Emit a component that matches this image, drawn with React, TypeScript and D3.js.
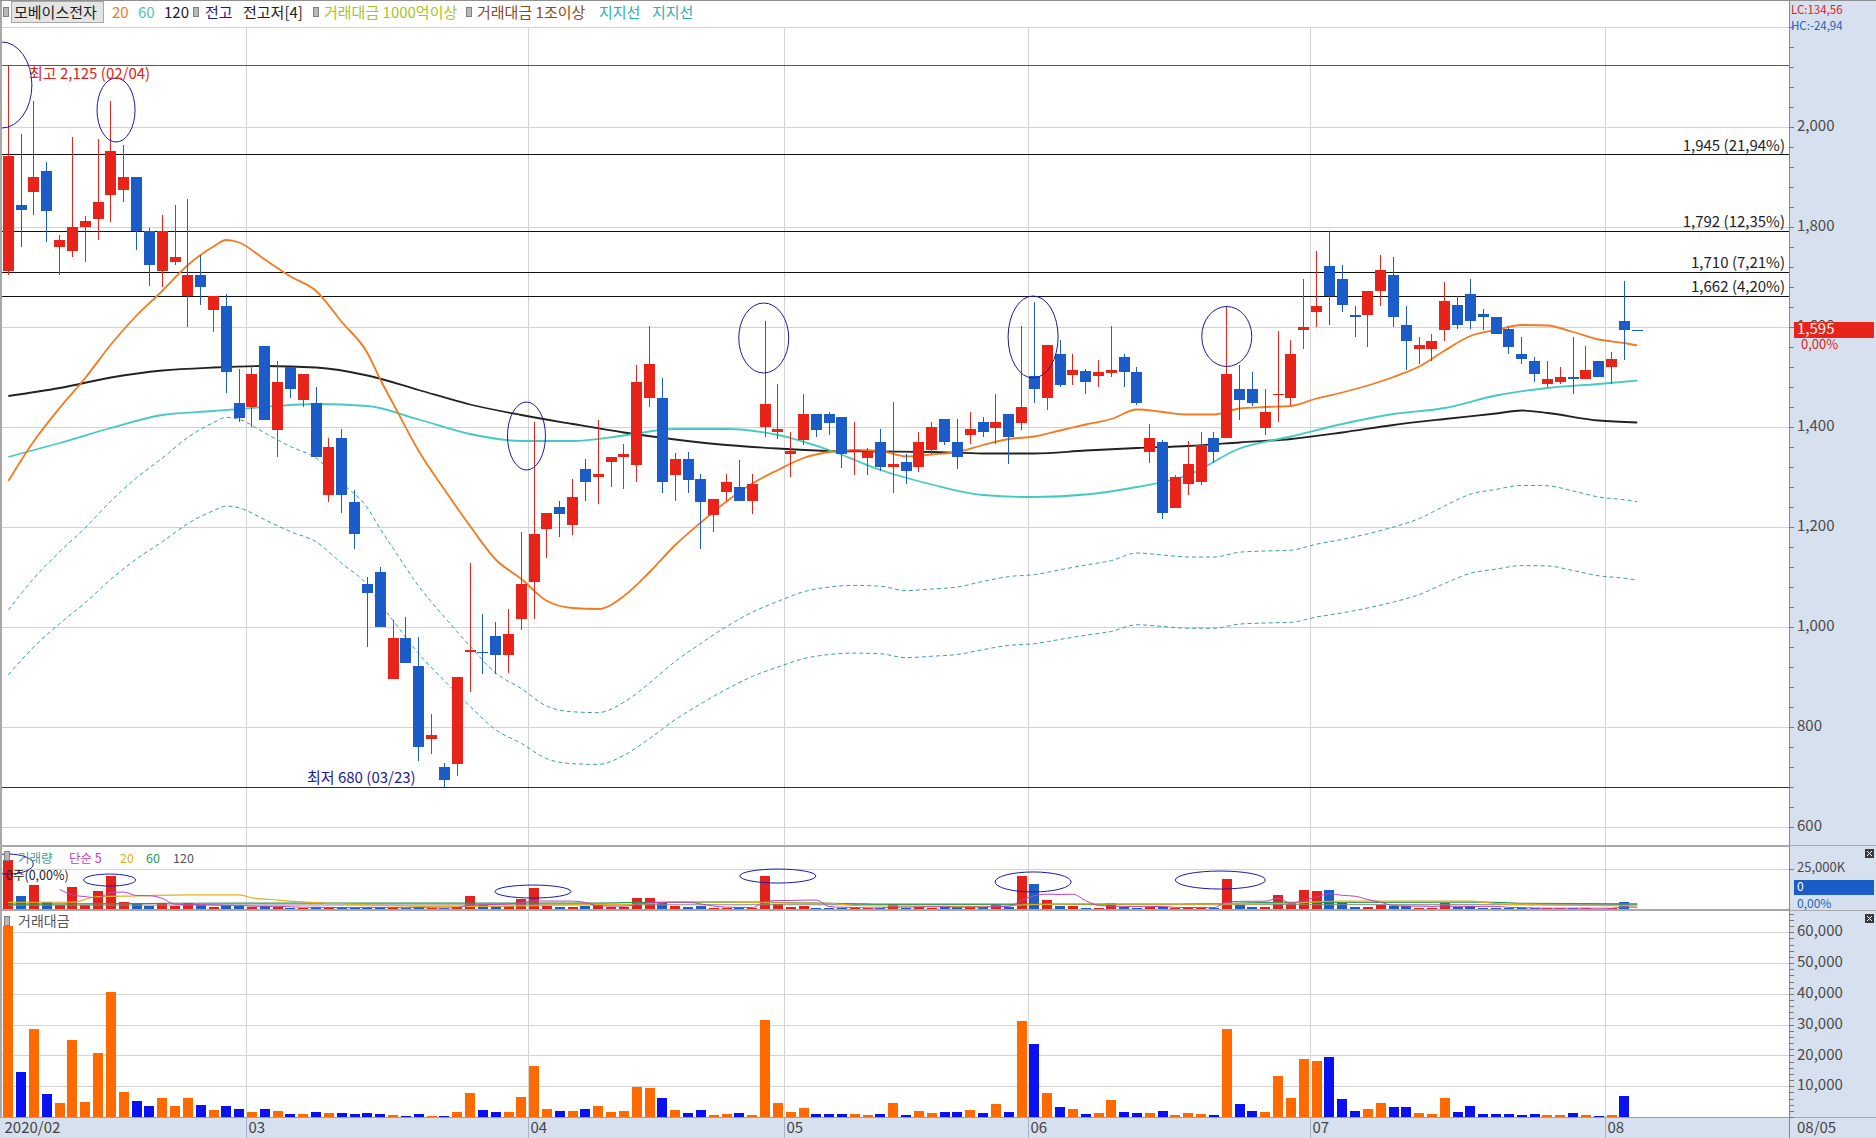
import { useEffect } from "react";
import * as d3 from "d3";

const W = 1876;
const H = 1138;
const PLOT_L = 2;
const PLOT_R = 1789;
const FONT = "'Noto Sans CJK KR', 'Noto Sans', sans-serif";

// 일봉 (2020/02/04 ~ 2020/08/05)
const OPEN = [
  1713, 1845, 1870, 1912, 1761, 1751, 1801, 1815, 1864, 1874,
  1900, 1793, 1713, 1730, 1661, 1705, 1635, 1642, 1449, 1439,
  1562, 1395, 1520, 1455, 1449, 1265, 1379, 1250, 1086, 1110,
  895, 977, 922, 777, 720, 726, 950, 951, 983, 944,
  1016, 1090, 1196, 1240, 1205, 1317, 1299, 1330, 1341, 1325,
  1459, 1459, 1304, 1336, 1296, 1225, 1270, 1280, 1251, 1401,
  1390, 1346, 1375, 1426, 1426, 1420, 1349, 1339, 1371, 1320,
  1330, 1320, 1355, 1416, 1371, 1385, 1410, 1399, 1426, 1409,
  1502, 1459, 1546, 1505, 1512, 1502, 1509, 1541, 1511, 1349,
  1370, 1239, 1287, 1290, 1379, 1379, 1476, 1476, 1399, 1464,
  1458, 1594, 1631, 1722, 1696, 1625, 1625, 1672, 1705, 1605,
  1556, 1556, 1595, 1645, 1666, 1626, 1621, 1596, 1546, 1531,
  1486, 1490, 1501, 1496, 1531, 1521, 1612, 1595,
];
const HIGH = [
  2125, 1985, 2051, 1931, 1785, 1981, 1822, 1976, 2051, 1964,
  1900, 1798, 1825, 1845, 1856, 1744, 1662, 1667, 1517, 1525,
  1562, 1532, 1520, 1506, 1480, 1379, 1396, 1275, 1101, 1120,
  1014, 1020, 980, 826, 728, 901, 1128, 1027, 1011, 1037,
  1191, 1410, 1229, 1251, 1296, 1336, 1415, 1341, 1367, 1525,
  1602, 1498, 1348, 1350, 1307, 1256, 1307, 1335, 1307, 1612,
  1486, 1389, 1467, 1426, 1430, 1420, 1410, 1359, 1396, 1451,
  1346, 1389, 1410, 1416, 1416, 1430, 1420, 1466, 1426, 1602,
  1650, 1565, 1575, 1546, 1517, 1534, 1602, 1546, 1521, 1406,
  1375, 1305, 1372, 1389, 1389, 1643, 1525, 1511, 1476, 1592,
  1575, 1696, 1752, 1792, 1725, 1643, 1672, 1745, 1741, 1643,
  1581, 1585, 1691, 1662, 1696, 1636, 1621, 1600, 1581, 1541,
  1531, 1519, 1581, 1562, 1531, 1550, 1692, 1595,
];
const LOW = [
  1704, 1761, 1825, 1771, 1704, 1740, 1730, 1774, 1810, 1850,
  1755, 1683, 1680, 1725, 1600, 1644, 1590, 1469, 1410, 1401,
  1415, 1341, 1458, 1439, 1340, 1250, 1229, 1156, 960, 1001,
  895, 929, 733, 747, 680, 702, 871, 907, 907, 909,
  994, 1016, 1139, 1180, 1185, 1251, 1246, 1280, 1277, 1289,
  1440, 1268, 1251, 1268, 1156, 1191, 1251, 1251, 1227, 1381,
  1376, 1299, 1364, 1380, 1384, 1319, 1305, 1305, 1311, 1269,
  1287, 1309, 1347, 1364, 1316, 1366, 1380, 1366, 1326, 1395,
  1449, 1435, 1480, 1485, 1466, 1480, 1501, 1480, 1444, 1329,
  1216, 1239, 1265, 1285, 1329, 1379, 1414, 1441, 1385, 1410,
  1444, 1556, 1600, 1604, 1631, 1581, 1561, 1643, 1600, 1514,
  1527, 1532, 1573, 1596, 1596, 1594, 1587, 1546, 1527, 1490,
  1480, 1486, 1466, 1496, 1501, 1486, 1534, 1595,
];
const CLOSE = [
  1942, 1834, 1900, 1831, 1775, 1801, 1812, 1851, 1952, 1900,
  1791, 1725, 1793, 1741, 1705, 1680, 1662, 1511, 1419, 1506,
  1415, 1490, 1476, 1506, 1340, 1360, 1265, 1186, 1067, 1001,
  977, 929, 760, 783, 694, 901, 955, 948, 944, 985,
  1087, 1187, 1229, 1226, 1260, 1290, 1306, 1341, 1347, 1490,
  1526, 1290, 1336, 1294, 1250, 1256, 1291, 1251, 1287, 1446,
  1397, 1352, 1426, 1395, 1409, 1346, 1355, 1350, 1320, 1326,
  1311, 1371, 1400, 1370, 1341, 1396, 1390, 1410, 1380, 1439,
  1476, 1565, 1485, 1515, 1490, 1511, 1515, 1511, 1449, 1379,
  1229, 1299, 1326, 1365, 1349, 1506, 1454, 1449, 1430, 1467,
  1546, 1600, 1642, 1661, 1645, 1621, 1672, 1714, 1621, 1571,
  1565, 1571, 1652, 1604, 1612, 1621, 1587, 1561, 1536, 1506,
  1496, 1501, 1496, 1514, 1501, 1536, 1595, 1595,
];

// 거래대금 (백만)
const VALUE = [
  61900, 14600, 28700, 7500, 4500, 24900, 4900, 20700, 40500, 8100,
  5200, 3600, 6200, 3600, 6200, 3900, 2300, 3600, 2600, 1600,
  2600, 1900, 1000, 1000, 1600, 1300, 1300, 1000, 1300, 1000,
  600, 300, 1000, 300, 300, 1600, 7800, 2300, 1600, 1600,
  6500, 16500, 2600, 1900, 1900, 2600, 3600, 1600, 1900, 9700,
  9400, 6200, 2300, 1300, 2300, 600, 1000, 1300, 600, 31400,
  4500, 1600, 2900, 1000, 1000, 1000, 1000, 600, 1000, 4500,
  600, 1900, 1300, 1600, 1600, 2300, 1300, 4200, 1600, 31100,
  23700, 7800, 3200, 2600, 1000, 1300, 5500, 1600, 1300, 1300,
  1900, 600, 1300, 1000, 600, 28500, 4100, 1900, 1600, 13200,
  6100, 18800, 18100, 19400, 5800, 1900, 2600, 4500, 3200, 3200,
  1300, 1000, 6100, 1600, 3500, 1000, 1000, 1000, 600, 1000,
  600, 600, 1300, 600, 300, 600, 6800, 0,
];

// 거래량 (K주)
const VOLUME = [
  30900, 8200, 15100, 4400, 2600, 13900, 2700, 11300, 20800, 4300,
  2900, 2100, 3500, 2100, 3600, 2300, 1400, 2300, 1800, 1100,
  1800, 1300, 700, 700, 1150, 950, 1000, 850, 1200, 1000,
  650, 350, 1300, 400, 450, 1800, 8200, 2400, 1700, 1600,
  6300, 13200, 2100, 1550, 1500, 2000, 2750, 1200, 1400, 6900,
  6900, 4400, 1700, 1000, 1800, 480, 780, 1000, 470, 20800,
  3200, 1200, 2050, 720, 710, 740, 740, 450, 760, 3400,
  460, 1400, 930, 1170, 1190, 1650, 940, 2980, 1160, 20800,
  15700, 5700, 2150, 1720, 670, 860, 3700, 1060, 900, 940,
  1550, 460, 980, 730, 440, 18900, 2800, 1300, 1120, 8800,
  3950, 12000, 11300, 12000, 3500, 1170, 1550, 2600, 1950, 2000,
  830, 640, 3700, 1000, 2170, 620, 630, 640, 390, 660,
  400, 400, 870, 400, 200, 390, 4200, 0,
];

// 이동평균 (봉 번호, 값) — 화면에서 읽은 값
const MA20: [number, number][] = [
  [0, 1292], [2, 1372], [4, 1438], [6, 1498], [8, 1565], [10, 1623], [12, 1672],
  [14, 1724], [16, 1761], [17, 1774], [18, 1769], [20, 1735], [22, 1701], [24, 1672],
  [26, 1610], [28, 1548], [29, 1495], [30, 1447], [32, 1352], [34, 1275], [36, 1202],
  [38, 1135], [40, 1096], [42, 1052], [44, 1038], [46, 1036], [48, 1062], [50, 1110],
  [52, 1164], [54, 1209], [56, 1251], [58, 1287], [60, 1314], [62, 1338], [64, 1350],
  [66, 1354], [68, 1352], [70, 1341], [72, 1345], [74, 1350], [76, 1364], [78, 1376],
  [80, 1381], [82, 1393], [84, 1405], [86, 1416], [88, 1435], [90, 1430], [92, 1425],
  [94, 1425], [96, 1437], [98, 1440], [100, 1442], [102, 1457], [104, 1469], [106, 1483],
  [108, 1500], [110, 1521], [112, 1553], [114, 1582], [116, 1594], [118, 1604],
  [120, 1603], [122, 1590], [124, 1575], [126, 1568], [127, 1563],
];
const MA60: [number, number][] = [
  [0, 1340], [4, 1368], [8, 1398], [12, 1424], [16, 1432], [20, 1440], [24, 1446],
  [28, 1442], [32, 1415], [36, 1386], [40, 1372], [44, 1372], [48, 1383], [52, 1396],
  [56, 1396], [60, 1384], [64, 1354], [68, 1314], [72, 1285], [76, 1264], [80, 1260],
  [84, 1265], [88, 1280], [92, 1304], [96, 1357], [100, 1381], [104, 1406], [108, 1426],
  [112, 1438], [116, 1463], [120, 1478], [124, 1486], [127, 1493],
];
const MA120: [number, number][] = [
  [0, 1462], [4, 1478], [8, 1499], [12, 1513], [16, 1519], [20, 1522], [24, 1519],
  [28, 1503], [32, 1474], [36, 1445], [40, 1424], [44, 1406], [48, 1389], [52, 1375],
  [56, 1364], [60, 1357], [64, 1352], [68, 1351], [72, 1350], [76, 1347], [80, 1347],
  [84, 1353], [88, 1358], [92, 1362], [96, 1369], [100, 1376], [104, 1389], [108, 1404],
  [112, 1416], [116, 1427], [118, 1433], [120, 1428], [124, 1413], [127, 1409],
];
const ENV_RATES = [0.8, 0.7];

const VOL_MA20: [number, number][] = [
  [0, 4200], [5, 4300], [7, 7800], [10, 8200], [14, 8800], [18, 8800], [19, 7000],
  [21, 5600], [23, 4400], [25, 3600], [28, 2600], [32, 1700], [36, 1600], [40, 1900],
  [44, 2700], [48, 2700], [52, 4300], [56, 4400], [60, 3800], [64, 3600], [66, 2200],
  [70, 1800], [76, 1500], [80, 2800], [84, 3200], [92, 3000], [96, 3200], [100, 3700],
  [104, 5000], [110, 5000], [114, 4900], [116, 3400], [120, 2400], [127, 2000],
];
const VOL_MA60: [number, number][] = [
  [0, 3000], [10, 3300], [12, 3600], [30, 3700], [46, 3700], [50, 4200], [58, 4300],
  [62, 3800], [70, 3000], [90, 3000], [95, 3600], [100, 4200], [115, 4300], [118, 3600],
  [127, 3200],
];
const VOL_MA120: [number, number][] = [[0, 2400], [40, 2600], [80, 2700], [127, 2700]];

const MONTH_START = [0, 19, 41, 61, 80, 102, 125];
const MONTH_LABEL = ["2020/02", "03", "04", "05", "06", "07", "08"];
const PRICE_GRID = [2200, 2000, 1800, 1600, 1400, 1200, 1000, 800, 600];
const PRICE_LABELS = [2000, 1800, 1600, 1400, 1200, 1000, 800, 600];
const LEVELS = [1945, 1792, 1710, 1662];
const LEVEL_PCT = ["21,94%", "12,35%", "7,21%", "4,20%"];
const TOP_PRICE = 2125;
const BOTTOM_PRICE = 680;
const LAST_PRICE = 1595;
const VALUE_TICKS = [60000, 50000, 40000, 30000, 20000, 10000];

// 동그라미 표시 (봉 번호, 값, 가로/세로 반지름)
const PRICE_RINGS = [
  { k: -0.5, v: 2084, rx: 30, ry: 43 },
  { k: 8.4, v: 2034, rx: 19, ry: 32 },
  { k: 40.4, v: 1382, rx: 19, ry: 34 },
  { k: 58.9, v: 1578, rx: 25, ry: 35 },
  { k: 79.9, v: 1580, rx: 25, ry: 41 },
  { k: 95, v: 1581, rx: 25, ry: 30 },
];
const VOL_RINGS = [
  { k: 0, v: 28100, rx: 25, ry: 10 },
  { k: 7.9, v: 18100, rx: 26, ry: 6 },
  { k: 40.9, v: 10900, rx: 38, ry: 6.5 },
  { k: 60, v: 20600, rx: 38, ry: 7 },
  { k: 79.9, v: 16900, rx: 38, ry: 10 },
  { k: 94.5, v: 18100, rx: 45, ry: 9 },
];

const UP = "#e8231a";
const DOWN = "#1c5cc8";

const fmt = d3.format(",");

export default function App() {
  useEffect(() => {
    document.body.style.margin = "0";
  }, []);

  const x = d3.scaleLinear().domain([0, 127]).range([8.3, 1637.2]);
  const y = d3.scaleLinear().domain([600, 2000]).range([827, 127]);
  const yVol = d3.scaleLinear().domain([0, 25000]).range([909, 869]);
  const yVal = d3.scaleLinear().domain([0, 60000]).range([1117, 932.3]);
  const gridX = (k: number) => Math.round(x(k) - 6.4) + 0.5;

  const priceLine = d3
    .line<[number, number]>()
    .x((d) => x(d[0]))
    .y((d) => y(d[1]))
    .curve(d3.curveMonotoneX);
  const volLine = d3
    .line<[number, number]>()
    .x((d) => x(d[0]))
    .y((d) => yVol(d[1]))
    .curve(d3.curveMonotoneX);

  const volMa5: [number, number][] = d3
    .range(4, VOLUME.length)
    .map((k) => [k, d3.mean(VOLUME.slice(k - 4, k + 1)) as number]);

  const idx = d3.range(CLOSE.length);
  const priceTicks = d3.range(600, 2201, 40);
  const valueTicks = d3.range(0, 66001, 2000);

  const icon = (px: number, py: number) => (
    <rect x={px + 0.5} y={py + 0.5} width={5} height={9} fill="#b8b8b8" stroke="#808080" />
  );
  const closeBox = (px: number, py: number) => (
    <g>
      <rect x={px} y={py} width={9} height={9} fill="#3a3a3a" />
      <path d={`M${px + 2},${py + 2}L${px + 7},${py + 7}M${px + 7},${py + 2}L${px + 2},${py + 7}`} stroke="#fff" strokeWidth={1} />
    </g>
  );

  return (
    <div style={{ position: "absolute", left: 0, top: 0 }}>
      <svg width={W} height={H} style={{ display: "block", background: "#fff", fontFamily: FONT }}>
        <defs>
          <clipPath id="mainClip">
            <rect x={PLOT_L} y={0} width={PLOT_R - PLOT_L} height={845} />
          </clipPath>
          <clipPath id="volClip">
            <rect x={PLOT_L} y={847} width={PLOT_R - PLOT_L} height={62} />
          </clipPath>
        </defs>

        {/* right axis + x axis background */}
        <rect x={PLOT_R} y={0} width={W - PLOT_R} height={H} fill="#d6e0ee" />
        <rect x={0} y={1118} width={PLOT_R} height={20} fill="#d6e0ee" />

        {/* main grid */}
        {PRICE_GRID.map((v) => (
          <line key={"pg" + v} x1={PLOT_L} x2={PLOT_R} y1={Math.round(y(v)) + 0.5} y2={Math.round(y(v)) + 0.5} stroke="#d3d3d3" />
        ))}
        {MONTH_START.slice(1).map((k) => (
          <g key={"mg" + k}>
            <line x1={gridX(k)} x2={gridX(k)} y1={27} y2={845} stroke="#d3d3d3" />
            <line x1={gridX(k)} x2={gridX(k)} y1={847} y2={909} stroke="#d3d3d3" />
            <line x1={gridX(k)} x2={gridX(k)} y1={912} y2={1117} stroke="#d3d3d3" />
            <line x1={gridX(k)} x2={gridX(k)} y1={1118} y2={1138} stroke="#a8b2c0" />
          </g>
        ))}
        <line x1={PLOT_L} x2={PLOT_R} y1={Math.round(yVol(25000)) + 0.5} y2={Math.round(yVol(25000)) + 0.5} stroke="#d3d3d3" />
        {VALUE_TICKS.map((v) => (
          <line key={"vg" + v} x1={PLOT_L} x2={PLOT_R} y1={Math.round(yVal(v)) + 0.5} y2={Math.round(yVal(v)) + 0.5} stroke="#d3d3d3" />
        ))}

        <g clipPath="url(#mainClip)">
          {/* envelope */}
          {ENV_RATES.map((r) => (
            <path
              key={"env" + r}
              d={priceLine(MA20.map(([k, v]) => [k, v * r] as [number, number])) || ""}
              fill="none"
              stroke="#3a9ea6"
              strokeWidth={1}
              strokeDasharray="4,3"
            />
          ))}

          {/* 전고저 lines */}
          {LEVELS.map((v) => (
            <line key={"lv" + v} x1={PLOT_L} x2={PLOT_R} y1={Math.round(y(v)) + 0.5} y2={Math.round(y(v)) + 0.5} stroke="#111" />
          ))}
          <line x1={PLOT_L} x2={PLOT_R} y1={Math.round(y(TOP_PRICE)) + 0.5} y2={Math.round(y(TOP_PRICE)) + 0.5} stroke="#e02020" />
          <line x1={PLOT_L} x2={PLOT_R} y1={Math.round(y(BOTTOM_PRICE)) + 0.5} y2={Math.round(y(BOTTOM_PRICE)) + 0.5} stroke="#2020a0" />

          {/* moving averages */}
          <path d={priceLine(MA120) || ""} fill="none" stroke="#222" strokeWidth={1.8} />
          <path d={priceLine(MA60) || ""} fill="none" stroke="#45c9c3" strokeWidth={1.8} />
          <path d={priceLine(MA20) || ""} fill="none" stroke="#f47a20" strokeWidth={1.8} />

          {/* candles */}
          {idx.map((k) => {
            const o = OPEN[k];
            const c = CLOSE[k];
            const col = c > o ? UP : DOWN;
            const left = Math.round(x(k) - 5.5);
            const top = Math.round(y(Math.max(o, c)));
            const bot = Math.round(y(Math.min(o, c)));
            return (
              <g key={"c" + k}>
                <line x1={left + 5.5} x2={left + 5.5} y1={Math.round(y(HIGH[k]))} y2={Math.round(y(LOW[k]))} stroke={col} />
                <rect x={left} y={top} width={11} height={Math.max(1, bot - top)} fill={col} />
              </g>
            );
          })}

          {PRICE_RINGS.map((r, i) => (
            <ellipse key={"pr" + i} cx={x(r.k)} cy={y(r.v)} rx={r.rx} ry={r.ry} fill="none" stroke="#1a1aa8" strokeWidth={1} />
          ))}
        </g>

        {/* price annotations */}
        <text x={29} y={y(TOP_PRICE) + 14} fontSize={15} fill="#e02020">
          최고 {fmt(TOP_PRICE)} (02/04)
        </text>
        <text x={307} y={y(BOTTOM_PRICE) - 4} fontSize={15} fill="#1a1a9c">
          최저 {BOTTOM_PRICE} (03/23)
        </text>
        {LEVELS.map((v, i) => (
          <text key={"lt" + v} x={1785} y={y(v) - 4} fontSize={15} fill="#222" textAnchor="end">
            {fmt(v)} ({LEVEL_PCT[i]})
          </text>
        ))}

        {/* volume panel */}
        <g clipPath="url(#volClip)">
          {idx.map((k) => {
            const col = CLOSE[k] > OPEN[k] ? "#e3231b" : "#1f5fc5";
            const top = Math.round(yVol(VOLUME[k]));
            if (VOLUME[k] <= 0) return null;
            return <rect key={"vb" + k} x={Math.round(x(k) - 5)} y={top} width={10} height={Math.max(1, 909 - top)} fill={col} />;
          })}
          <path d={volLine(VOL_MA120) || ""} fill="none" stroke="#888" strokeWidth={1} />
          <path d={volLine(VOL_MA60) || ""} fill="none" stroke="#2a9a50" strokeWidth={1.2} />
          <path d={volLine(VOL_MA20) || ""} fill="none" stroke="#e0b020" strokeWidth={1.2} />
          <path d={volLine(volMa5) || ""} fill="none" stroke="#c040c0" strokeWidth={1} />
          {VOL_RINGS.map((r, i) => (
            <ellipse key={"vr" + i} cx={x(r.k)} cy={yVol(r.v)} rx={r.rx} ry={r.ry} fill="none" stroke="#1a1aa8" strokeWidth={1} />
          ))}
        </g>

        {/* value panel */}
        {idx.map((k) => {
          if (VALUE[k] <= 0) return null;
          const col = CLOSE[k] > OPEN[k] ? "#ff6a00" : "#0a10f0";
          const top = Math.round(yVal(VALUE[k]));
          return <rect key={"val" + k} x={Math.round(x(k) - 5)} y={top} width={10} height={Math.max(1, 1117 - top)} fill={col} />;
        })}

        {/* panel separators */}
        <rect x={0} y={845} width={PLOT_R} height={2} fill="#a8a8a8" />
        <rect x={0} y={909} width={PLOT_R} height={2} fill="#a8a8a8" />
        <line x1={0} x2={PLOT_R} y1={1117.5} y2={1117.5} stroke="#a0a0a0" />
        <rect x={0} y={0} width={2} height={1118} fill="#a8a8a8" />
        <line x1={0} x2={W} y1={0.5} y2={0.5} stroke="#909090" />
        <line x1={PLOT_R + 0.5} x2={PLOT_R + 0.5} y1={0} y2={H} stroke="#8a8a8a" />
        <line x1={PLOT_R} x2={W} y1={845.5} y2={845.5} stroke="#a8a8a8" />
        <line x1={PLOT_R} x2={W} y1={910.5} y2={910.5} stroke="#a8a8a8" />
        <line x1={PLOT_R} x2={W} y1={1117.5} y2={1117.5} stroke="#a8a8a8" />

        {/* top legend */}
        {icon(3, 7)}
        <rect x={11.5} y={1.5} width={92} height={21} fill="#e4e4e4" stroke="#a8a8a8" />
        <text x={14} y={17.5} fontSize={15} fill="#222">모베이스전자</text>
        <text x={112} y={17.5} fontSize={15} fill="#f07a1e">20</text>
        <text x={138} y={17.5} fontSize={15} fill="#4cc4c4">60</text>
        <text x={164} y={17.5} fontSize={15} fill="#222">120</text>
        {icon(193, 7)}
        <text x={205} y={17.5} fontSize={15} fill="#1a1a8c">전고</text>
        <text x={243} y={17.5} fontSize={15} fill="#222">전고저[4]</text>
        {icon(313, 7)}
        <text x={324} y={17.5} fontSize={15} fill="#a9c41c">거래대금 1000억이상</text>
        {icon(466, 7)}
        <text x={477} y={17.5} fontSize={15} fill="#8a4a22">거래대금 1조이상</text>
        <text x={599} y={17.5} fontSize={15} fill="#2bb0b0">지지선</text>
        <text x={652} y={17.5} fontSize={15} fill="#2bb0b0">지지선</text>

        {/* volume legend */}
        {icon(4, 851)}
        <text x={18} y={860} fontSize={12.5} fill="#3a9ea0" dominantBaseline="middle">거래량</text>
        <text x={69} y={860} fontSize={12.5} fill="#c040c0" dominantBaseline="middle">단순 5</text>
        <text x={120} y={860} fontSize={12.5} fill="#d8b020" dominantBaseline="middle">20</text>
        <text x={146} y={860} fontSize={12.5} fill="#2a9a50" dominantBaseline="middle">60</text>
        <text x={173} y={860} fontSize={12.5} fill="#555" dominantBaseline="middle">120</text>
        <text x={6} y={877} fontSize={12.5} fill="#222" dominantBaseline="middle">0주(0,00%)</text>

        {icon(4, 916)}
        <text x={18} y={926} fontSize={14} fill="#555">거래대금</text>

        {/* right price axis */}
        {priceTicks.map((v) => (
          <line key={"pt" + v} x1={PLOT_R} x2={PLOT_R + 5} y1={Math.round(y(v)) + 0.5} y2={Math.round(y(v)) + 0.5} stroke="#777" />
        ))}
        {PRICE_LABELS.map((v) => (
          <text key={"pl" + v} x={1797} y={y(v)} fontSize={15} fill="#4a4a4a" dominantBaseline="middle">
            {fmt(v)}
          </text>
        ))}
        <text x={1791} y={10.5} fontSize={11.5} fill="#e02020" dominantBaseline="middle">LC:134,56</text>
        <text x={1791} y={27} fontSize={11.5} fill="#2060c0" dominantBaseline="middle">HC:-24,94</text>
        <rect x={1794} y={Math.round(y(LAST_PRICE)) - 8} width={80} height={16} fill="#e8231a" />
        <text x={1797} y={y(LAST_PRICE)} fontSize={15} fill="#fff" dominantBaseline="middle">
          {fmt(LAST_PRICE)}
        </text>
        <text x={1801} y={y(LAST_PRICE) + 16} fontSize={13} fill="#e02020" dominantBaseline="middle">
          0,00%
        </text>

        {/* right volume axis */}
        {closeBox(1865, 849)}
        <line x1={PLOT_R} x2={PLOT_R + 5} y1={Math.round(yVol(25000)) + 0.5} y2={Math.round(yVol(25000)) + 0.5} stroke="#777" />
        <text x={1797} y={yVol(25000) - 1} fontSize={13} fill="#4a4a4a" dominantBaseline="middle">25,000K</text>
        <rect x={1794} y={880} width={80} height={15} fill="#1c5cc8" />
        <text x={1797} y={888} fontSize={12} fill="#fff" dominantBaseline="middle">0</text>
        <text x={1797} y={905} fontSize={12} fill="#2060c0" dominantBaseline="middle">0,00%</text>

        {/* right value axis */}
        {closeBox(1865, 914)}
        {valueTicks.map((v) => (
          <line key={"vt" + v} x1={PLOT_R} x2={PLOT_R + 5} y1={Math.round(yVal(v)) + 0.5} y2={Math.round(yVal(v)) + 0.5} stroke="#777" />
        ))}
        {VALUE_TICKS.map((v) => (
          <text key={"vl" + v} x={1797} y={yVal(v)} fontSize={15} fill="#4a4a4a" dominantBaseline="middle">
            {fmt(v)}
          </text>
        ))}

        {/* x axis labels */}
        {MONTH_START.map((k, i) => (
          <text key={"xl" + k} x={gridX(k) + 2} y={1133} fontSize={15} fill="#444">
            {MONTH_LABEL[i]}
          </text>
        ))}
        <text x={1797} y={1133} fontSize={15} fill="#444">08/05</text>
      </svg>
    </div>
  );
}
